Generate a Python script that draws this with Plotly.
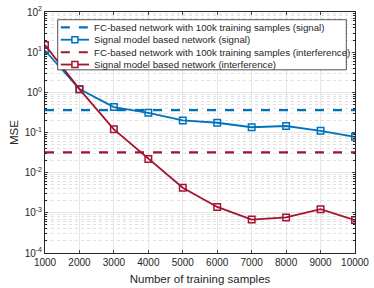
import plotly.graph_objects as go

samples = [1000, 2000, 3000, 4000, 5000, 6000, 7000, 8000, 9000, 10000]
xticktext = [str(s) for s in samples]
fc_signal = 0.36
fc_interf = 0.032
sm_signal = [11, 1.2, 0.43, 0.31, 0.20, 0.175, 0.135, 0.145, 0.11, 0.078]
sm_interf = [15, 1.2, 0.12, 0.022, 0.0042, 0.0014, 0.00068, 0.00077, 0.00123, 0.00066]
names = [
    "FC-based network with 100k training samples (signal)",
    "Signal model based network (signal)",
    "FC-based network with 100k training samples (interference)",
    "Signal model based network (interference)",
]
ytickvals = [1e-4, 1e-3, 1e-2, 1e-1, 1, 10, 100]
yticktext = ["10<sup>-4</sup>", "10<sup>-3</sup>", "10<sup>-2</sup>", "10<sup>-1</sup>",
             "10<sup>0</sup>", "10<sup>1</sup>", "10<sup>2</sup>"]

blue = "#0072BD"
red = "#A2142F"
colors = [blue, blue, red, red]
dashed = [True, False, True, False]

fig = go.Figure()
fig.add_trace(go.Scatter(x=[samples[0], samples[-1]], y=[fc_signal, fc_signal], mode="lines",
                         line=dict(color=blue, width=2.2, dash="dash"), name=names[0]))
fig.add_trace(go.Scatter(x=samples, y=sm_signal, mode="lines+markers",
                         line=dict(color=blue, width=1.8),
                         marker=dict(symbol="square-open", size=6.5, color=blue, line=dict(width=1.5)),
                         name=names[1]))
fig.add_trace(go.Scatter(x=[samples[0], samples[-1]], y=[fc_interf, fc_interf], mode="lines",
                         line=dict(color=red, width=2.2, dash="dash"), name=names[2]))
fig.add_trace(go.Scatter(x=samples, y=sm_interf, mode="lines+markers",
                         line=dict(color=red, width=1.8),
                         marker=dict(symbol="square-open", size=6.5, color=red, line=dict(width=1.5)),
                         name=names[3]))

axcol = "#262626"

# compact MATLAB-style legend (paper coordinates)
shapes = [dict(type="rect", xref="paper", yref="paper", x0=0.041, x1=0.972, y0=0.76, y1=0.968,
               fillcolor="white", line=dict(color=axcol, width=0.8), layer="above")]
annotations = []
rows = [0.936, 0.885, 0.833, 0.782]
for i, (nm, c, d, yy) in enumerate(zip(names, colors, dashed, rows)):
    shapes.append(dict(type="line", xref="paper", yref="paper", x0=0.051, x1=0.142, y0=yy, y1=yy,
                       line=dict(color=c, width=2.2 if d else 1.8, dash="dash" if d else "solid"),
                       layer="above"))
    if not d:
        shapes.append(dict(type="rect", xref="paper", yref="paper", xsizemode="pixel", ysizemode="pixel",
                           xanchor=0.0965, yanchor=yy, x0=-3, x1=3, y0=-3, y1=3,
                           fillcolor="white", line=dict(color=c, width=1.5), layer="above"))
    annotations.append(dict(xref="paper", yref="paper", x=0.152, y=yy, xanchor="left", yanchor="middle",
                            text=nm, showarrow=False, font=dict(size=9.7, color=axcol)))

fig.update_layout(
    width=374, height=288,
    margin=dict(l=45, r=13, t=5, b=33),
    paper_bgcolor="white", plot_bgcolor="white",
    font=dict(family="Liberation Sans, Arial, sans-serif", size=10, color=axcol),
    showlegend=False,
    shapes=shapes, annotations=annotations,
    xaxis=dict(range=[1000, 10000], tickvals=samples, ticktext=xticktext, ticks="inside", ticklen=3,
               showline=True, linecolor=axcol, linewidth=1, mirror="allticks",
               showgrid=True, gridcolor="#e6e6e6", gridwidth=1, zeroline=False,
               ticklabeloverflow="allow",
               tickfont=dict(size=10), title=dict(text="Number of training samples", font=dict(size=11.5), standoff=7)),
    yaxis=dict(type="log", range=[-4, 2], tickvals=ytickvals, ticktext=yticktext,
               ticks="inside", ticklen=3,
               showline=True, linecolor=axcol, linewidth=1, mirror="allticks",
               showgrid=True, gridcolor="#e6e6e6", gridwidth=1, zeroline=False,
               ticklabeloverflow="allow",
               tickfont=dict(size=10), title=dict(text="MSE", font=dict(size=11.5), standoff=3),
               minor=dict(dtick="D1", ticks="inside", ticklen=2, tickcolor=axcol,
                          showgrid=True, gridcolor="#e0e0e0", griddash="dot", gridwidth=1)),
)

fig.write_html("out.html", config={"displayModeBar": False},
               post_script="document.body.style.margin='0px';")
